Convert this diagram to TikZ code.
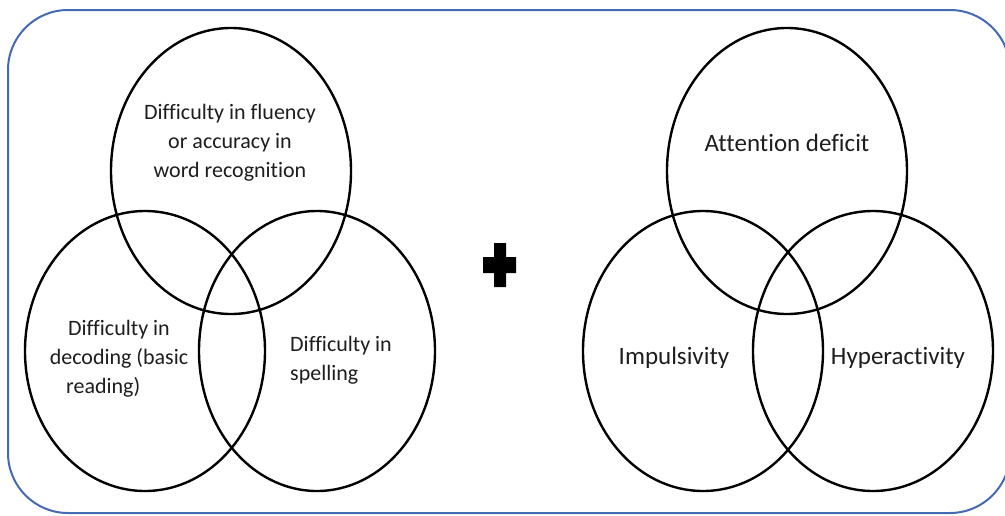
\documentclass[tikz,border=0pt]{standalone}
\usepackage{fontspec}
\setmainfont{Carlito}[Ligatures={NoCommon}]
\usetikzlibrary{shapes.geometric}
\definecolor{frameblue}{RGB}{68,106,180}
\definecolor{inkgray}{RGB}{30,30,30}
\begin{document}
\begin{tikzpicture}[x=1pt,y=-1pt,
  venn/.style={draw=black, line width=2.4pt, ellipse, minimum width=240pt, minimum height=280pt, inner sep=0pt},
  lbl/.style={font=\fontsize{22}{29}\selectfont, text=inkgray, align=center, inner sep=0pt},
  biglbl/.style={lbl, font=\fontsize{25}{30}\selectfont}]
\useasboundingbox (0,0) rectangle (1005,515);
\fill[white] (0,0) rectangle (1005,515);
\begin{scope}
  \clip (0,0) rectangle (1005,515);
  \draw[frameblue, line width=2pt, rounded corners=60pt] (8,10) rectangle (1010,513);
\end{scope}
% left group
\node[venn, minimum height=286pt] (fl) at (231,171) {};
\node[venn] (dec) at (145,351) {};
\node[venn, minimum width=236pt] (sp) at (317,351) {};
\node[lbl] (tfl) at (230,143) {Difficulty in fluency\\or accuracy in\\word recognition};
\node[lbl] (tdec) at (119,359) {Difficulty in\\decoding (basic\\reading)\hphantom{aaa}};
\node[lbl, align=left, anchor=west] (tsp) at (290,360) {Difficulty in\\spelling};
% plus sign
\fill[black] (494,243) -- (506,243) -- (506,257) -- (516,257) -- (516,273) -- (506,273)
  -- (506,287) -- (494,287) -- (494,273) -- (483,273) -- (483,257) -- (494,257) -- cycle;
% right group
\node[venn, minimum height=286pt] (att) at (787,171) {};
\node[venn] (imp) at (703,351) {};
\node[venn] (hyp) at (873,351) {};
\node[biglbl] (tatt) at (787,143) {Attention deficit};
\node[biglbl] (timp) at (674,358) {Impulsivity};
\node[biglbl] (thyp) at (898,358) {Hyperactivity};
\end{tikzpicture}
\end{document}
